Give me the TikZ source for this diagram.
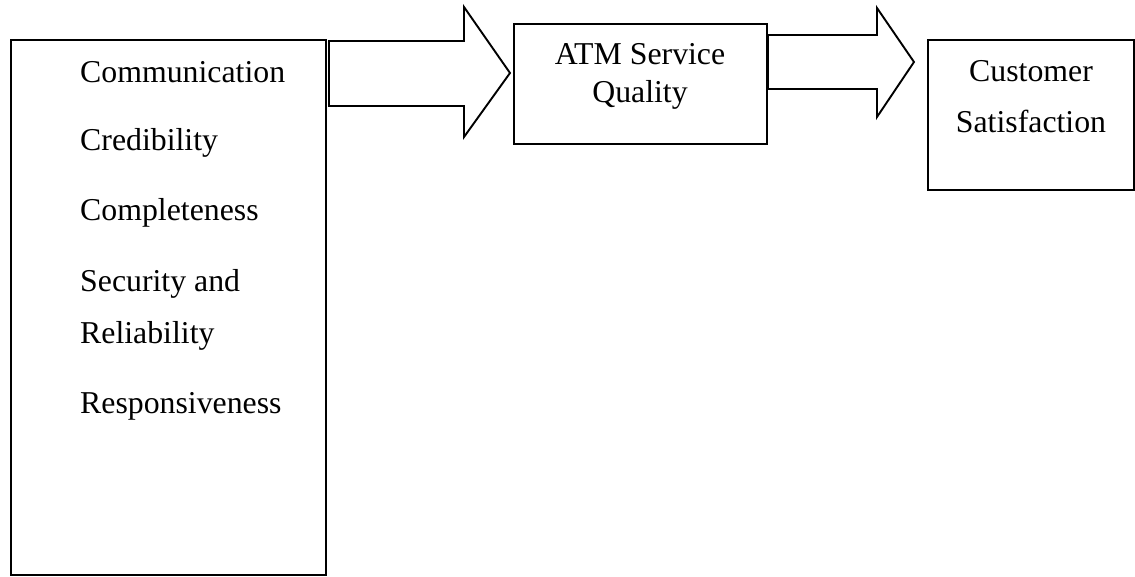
\documentclass[tikz,border=0pt]{standalone}
\usepackage{fontspec}
\setmainfont{Liberation Serif}
\begin{document}
\begin{tikzpicture}[x=1pt,y=-1pt,
  box/.style={draw=black,line width=1.9pt},
  bigarrow/.style={draw=black,line width=1.9pt,line join=miter,fill=white},
  lbl/.style={inner sep=0pt,font=\fontsize{31.8}{38}\selectfont}]
\useasboundingbox (0,0) rectangle (1135,577);
% boxes
\draw[box] (11,40) rectangle (326,575);
\draw[box] (514,24) rectangle (767,144);
\draw[box] (928,40) rectangle (1134,190);
% block arrows
\draw[bigarrow] (329,41) -- (464,41) -- (464,7) -- (510,73) -- (464,137) -- (464,106) -- (329,106) -- cycle;
\draw[bigarrow] (768,35) -- (877,35) -- (877,8) -- (914,62) -- (877,117) -- (877,89) -- (768,89) -- cycle;
% left list
\node[lbl,anchor=base west] (t1) at (80,83) {Communication};
\node[lbl,anchor=base west] (t2) at (80,151) {Credibility};
\node[lbl,anchor=base west] (t3) at (80,221) {Completeness};
\node[lbl,anchor=base west] (t4) at (80,291) {Security and};
\node[lbl,anchor=base west] (t5) at (80,343) {Reliability};
\node[lbl,anchor=base west] (t6) at (80,413) {Responsiveness};
% ATM
\node[lbl,anchor=base] (a1) at (640,65) {ATM Service};
\node[lbl,anchor=base] (a2) at (640,103) {Quality};
% Customer
\node[lbl,anchor=base] (c1) at (1031,82) {Customer};
\node[lbl,anchor=base] (c2) at (1031,133) {Satisfaction};
\end{tikzpicture}
\end{document}
